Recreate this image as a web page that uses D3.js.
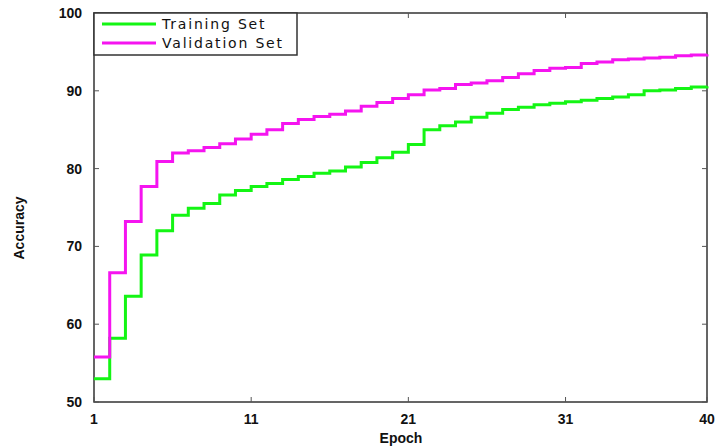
<html>
<head>
  <script src="https://d3js.org/d3.v7.min.js"></script>
  <style>
    body { margin: 0; background: #fff; }
    .tick-label { font-family: "Liberation Sans", Arial, sans-serif; font-size: 14px; font-weight: bold; fill: #111; }
    .axis-title { font-family: "Liberation Sans", Arial, sans-serif; font-size: 14px; font-weight: bold; fill: #111; }
    .legend-text { font-family: "DejaVu Sans", sans-serif; font-size: 14px; fill: #111; letter-spacing: 1.8px; }
  </style>
</head>
<body>
  <svg id="chart" width="716" height="448"></svg>
  <script>
    // epochs and accuracy (%)
    const epochs = [1, 2, 3, 4, 5, 6, 7, 8, 9, 10, 11, 12, 13, 14, 15, 16, 17, 18, 19, 20,
                    21, 22, 23, 24, 25, 26, 27, 28, 29, 30, 31, 32, 33, 34, 35, 36, 37, 38, 39, 40];
    const training = [53.0, 58.2, 63.6, 68.9, 72.0, 74.0, 74.9, 75.5, 76.6, 77.2,
                      77.7, 78.1, 78.6, 79.0, 79.4, 79.7, 80.2, 80.8, 81.4, 82.1,
                      83.1, 85.0, 85.5, 86.0, 86.6, 87.1, 87.6, 87.9, 88.2, 88.4,
                      88.6, 88.8, 89.0, 89.2, 89.5, 90.0, 90.1, 90.3, 90.5, 90.6];
    const validation = [55.8, 66.6, 73.2, 77.7, 80.9, 82.0, 82.3, 82.7, 83.2, 83.8,
                        84.4, 85.0, 85.8, 86.3, 86.7, 87.0, 87.4, 88.0, 88.5, 89.0,
                        89.5, 90.1, 90.3, 90.8, 91.0, 91.3, 91.7, 92.2, 92.6, 92.9,
                        93.0, 93.5, 93.7, 94.0, 94.1, 94.2, 94.3, 94.5, 94.6, 94.7];
    const xTicks = [1, 11, 21, 31, 40];
    const yTicks = [50, 60, 70, 80, 90, 100];
    const seriesNames = ["Training Set", "Validation Set"];
    const seriesColors = ["#14f514", "#f514f0"];

    const svg = d3.select("svg#chart");
    const plotLeft = 94, plotRight = 707, plotTop = 13, plotBottom = 402;

    const x = d3.scaleLinear().domain([1, 40]).range([plotLeft, plotRight]);
    const y = d3.scaleLinear().domain([50, 100]).range([plotBottom, plotTop]);

    // box
    svg.append("rect")
      .attr("x", plotLeft).attr("y", plotTop)
      .attr("width", plotRight - plotLeft).attr("height", plotBottom - plotTop)
      .attr("fill", "none").attr("stroke", "#333").attr("stroke-width", 1.5);

    // ticks inside the box
    const tickLen = 5;
    const g = svg.append("g");
    yTicks.forEach(t => {
      g.append("line").attr("x1", plotLeft).attr("x2", plotLeft + tickLen)
        .attr("y1", y(t)).attr("y2", y(t)).attr("stroke", "#555");
      g.append("line").attr("x1", plotRight).attr("x2", plotRight - tickLen)
        .attr("y1", y(t)).attr("y2", y(t)).attr("stroke", "#555");
      g.append("text").attr("class", "tick-label")
        .attr("x", plotLeft - 12).attr("y", y(t) + 5)
        .attr("text-anchor", "end").text(t);
    });
    xTicks.forEach(t => {
      g.append("line").attr("x1", x(t)).attr("x2", x(t))
        .attr("y1", plotBottom).attr("y2", plotBottom - tickLen).attr("stroke", "#555");
      g.append("line").attr("x1", x(t)).attr("x2", x(t))
        .attr("y1", plotTop).attr("y2", plotTop + tickLen).attr("stroke", "#555");
      g.append("text").attr("class", "tick-label")
        .attr("x", x(t)).attr("y", plotBottom + 22)
        .attr("text-anchor", "middle").text(t);
    });

    // step lines
    const line = d3.line()
      .x((d, i) => x(epochs[i]))
      .y(d => y(d))
      .curve(d3.curveStepAfter);

    [training, validation].forEach((s, i) => {
      svg.append("path")
        .datum(s)
        .attr("d", line)
        .attr("fill", "none")
        .attr("stroke", seriesColors[i])
        .attr("stroke-width", 3);
    });

    // axis titles
    svg.append("text").attr("class", "axis-title")
      .attr("x", 401).attr("y", 443).attr("text-anchor", "middle").text("Epoch");
    svg.append("text").attr("class", "axis-title")
      .attr("transform", "translate(24,228) rotate(-90)")
      .attr("text-anchor", "middle").text("Accuracy");

    // legend
    const legend = svg.append("g");
    legend.append("rect")
      .attr("x", plotLeft).attr("y", plotTop)
      .attr("width", 203).attr("height", 42)
      .attr("fill", "#fff").attr("stroke", "#333").attr("stroke-width", 1.5);
    seriesNames.forEach((name, i) => {
      const ly = plotTop + 11 + i * 19;
      legend.append("line")
        .attr("x1", plotLeft + 8).attr("x2", plotLeft + 62)
        .attr("y1", ly).attr("y2", ly)
        .attr("stroke", seriesColors[i]).attr("stroke-width", 3);
      legend.append("text").attr("class", "legend-text")
        .attr("x", plotLeft + 68).attr("y", ly + 5).text(name);
    });
  </script>
</body>
</html>
